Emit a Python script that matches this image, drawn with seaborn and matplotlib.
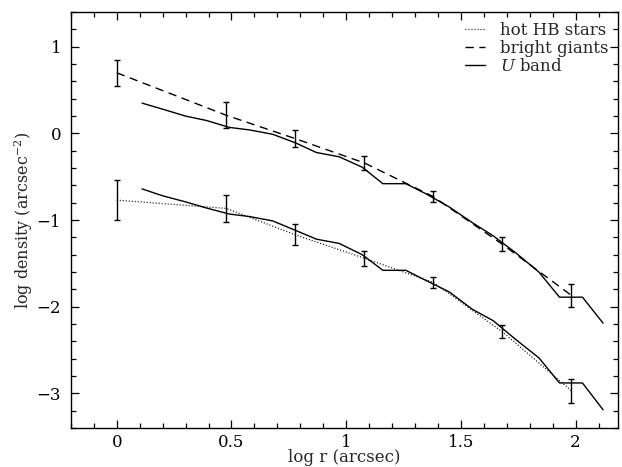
import numpy as np
import pandas as pd
import matplotlib
matplotlib.use("Agg")
import matplotlib.pyplot as plt
from matplotlib.ticker import MultipleLocator
import seaborn as sns

# U band profiles (solid lines)
x_u = [0.11, 0.20, 0.30, 0.39, 0.49, 0.58, 0.68, 0.78, 0.87, 0.97, 1.07,
       1.16, 1.26, 1.35, 1.45, 1.55, 1.64, 1.74, 1.84, 1.93, 2.03, 2.12]
u_upper = [0.35, 0.28, 0.20, 0.15, 0.07, 0.04, -0.01, -0.11, -0.22, -0.27, -0.39,
           -0.58, -0.58, -0.70, -0.85, -1.03, -1.18, -1.38, -1.60, -1.89, -1.89, -2.19]
u_lower = [-0.64, -0.72, -0.79, -0.86, -0.93, -0.96, -1.01, -1.12, -1.22, -1.27, -1.40,
           -1.58, -1.58, -1.70, -1.83, -2.03, -2.16, -2.38, -2.59, -2.88, -2.88, -3.19]

# star counts with error bars
x_pts = [0.0, 0.477, 0.778, 1.079, 1.380, 1.681, 1.982]
giants = [0.70, 0.21, -0.06, -0.34, -0.73, -1.28, -1.87]
giants_err = [0.15, 0.15, 0.10, 0.08, 0.06, 0.08, 0.13]
hb = [-0.77, -0.865, -1.17, -1.44, -1.72, -2.29, -2.97]
hb_err = [0.23, 0.16, 0.12, 0.087, 0.067, 0.075, 0.14]

sns.set_theme(style="ticks")
plt.rcParams["font.family"] = ["DejaVu Serif"]
plt.rcParams["mathtext.fontset"] = "dejavuserif"

fig = plt.figure(figsize=(6.22, 4.67), dpi=100)
ax = fig.add_axes([0.114, 0.0835, 0.8796, 0.8905])

df_u = pd.DataFrame({"x": x_u, "upper": u_upper, "lower": u_lower})
df_p = pd.DataFrame({"x": x_pts, "giants": giants, "hb": hb})

sns.lineplot(data=df_p, x="x", y="hb", ax=ax, color="black", lw=0.9,
             linestyle=(0, (0.8, 1.6)), label="hot HB stars")
sns.lineplot(data=df_p, x="x", y="giants", ax=ax, color="black", lw=1.0,
             linestyle=(0, (6, 4)), label="bright giants")
sns.lineplot(data=df_u, x="x", y="upper", ax=ax, color="black", lw=1.0,
             label=r"$\it{U}$ band")
sns.lineplot(data=df_u, x="x", y="lower", ax=ax, color="black", lw=1.0)

ax.errorbar(x_pts, giants, yerr=giants_err, fmt="none", ecolor="black",
            elinewidth=1.0, capsize=2.5, capthick=1.0)
ax.errorbar(x_pts, hb, yerr=hb_err, fmt="none", ecolor="black",
            elinewidth=1.0, capsize=2.5, capthick=1.0)

ax.set_xlim(-0.2, 2.185)
ax.set_ylim(-3.4, 1.4)
ax.xaxis.set_minor_locator(MultipleLocator(0.1))
ax.yaxis.set_minor_locator(MultipleLocator(0.2))
ax.set_xticks([0, 0.5, 1, 1.5, 2])
ax.set_xticklabels(["0", "0.5", "1", "1.5", "2"])
ax.set_yticks([-3, -2, -1, 0, 1])
ax.set_yticklabels(["\u22123", "\u22122", "\u22121", "0", "1"])
ax.tick_params(which="both", direction="in", top=True, right=True,
               colors="black", labelsize=12, width=0.9)
ax.tick_params(which="major", length=6)
ax.tick_params(which="minor", length=3.5)
ax.tick_params(axis="x", which="major", pad=4)
ax.tick_params(axis="y", which="major", pad=7)
for s in ax.spines.values():
    s.set_color("black")
    s.set_linewidth(1.0)

ax.set_xlabel("log r (arcsec)", fontsize=12, labelpad=-1)
ax.set_ylabel(r"log density (arcsec$^{-2}$)", fontsize=11.5, labelpad=1)

leg = ax.legend(loc="upper right", frameon=False, fontsize=12,
                handlelength=1.2, handletextpad=0.9, labelspacing=0.05,
                borderaxespad=0.2)

fig.savefig("out.png", dpi=100)
